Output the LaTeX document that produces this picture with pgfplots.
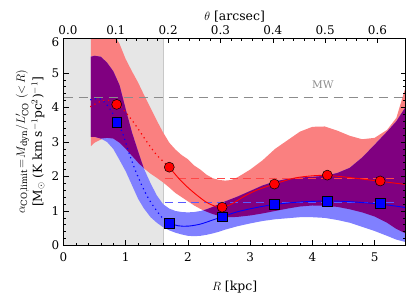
\documentclass[border=0pt]{standalone}
\usepackage{pgfplots}
\pgfplotsset{compat=1.18}
\usepackage{pgfplotstable}
\usepgfplotslibrary{fillbetween}
\usepackage{fontspec}
\setmainfont{DejaVu Serif}
\definecolor{pinkc}{RGB}{250,128,128}
\definecolor{bluec}{RGB}{128,128,255}
\definecolor{purplec}{RGB}{128,0,128}
\definecolor{shade}{RGB}{230,230,230}
\definecolor{shadeline}{RGB}{200,200,200}
\definecolor{mwgray}{RGB}{140,140,140}
\definecolor{dred}{RGB}{255,70,70}
\definecolor{dblue}{RGB}{90,90,255}

\pgfplotstableread{
R PU PL BU BL
0.44 6.30 2.88 5.47 3.15
0.50 6.30 2.98 5.50 3.15
0.60 6.30 3.07 5.47 3.10
0.70 6.30 3.12 5.30 3.00
0.80 6.15 3.10 5.05 2.80
0.90 5.85 2.98 4.65 2.48
1.00 5.40 2.80 3.95 2.15
1.10 5.05 2.60 3.28 1.75
1.20 4.72 2.40 2.72 1.35
1.29 4.38 2.24 2.24 1.08
1.40 3.98 2.08 1.80 0.82
1.50 3.62 1.96 1.45 0.66
1.60 3.28 1.83 1.20 0.53
1.70 2.98 1.68 1.07 0.44
1.80 2.78 1.52 1.00 0.37
1.90 2.62 1.40 0.97 0.32
2.00 2.50 1.28 0.96 0.28
2.10 2.32 1.16 0.97 0.27
2.20 2.20 1.06 1.00 0.28
2.30 2.05 0.98 1.05 0.31
2.40 1.95 0.91 1.12 0.35
2.50 1.90 0.86 1.20 0.40
2.60 1.88 0.83 1.28 0.46
2.70 1.90 0.82 1.35 0.51
2.80 1.98 0.83 1.42 0.56
3.00 2.20 0.87 1.58 0.64
3.20 2.47 0.93 1.74 0.71
3.40 2.80 1.00 1.86 0.76
3.60 3.05 1.07 1.93 0.79
3.80 3.30 1.13 1.97 0.82
4.00 3.44 1.16 1.99 0.82
4.20 3.45 1.15 2.02 0.80
4.40 3.33 1.12 2.10 0.74
4.60 3.18 1.05 2.25 0.66
4.80 3.08 0.96 2.55 0.54
5.00 3.12 0.84 2.92 0.42
5.20 3.35 0.66 3.30 0.28
5.35 3.70 0.48 3.60 0.17
5.50 4.60 0.35 4.02 0.10
}\bands

\pgfplotstableread{
R LO UP
0.44 3.15 5.47
0.50 3.15 5.50
0.60 3.10 5.47
0.70 3.12 5.30
0.80 3.10 5.05
0.90 2.98 4.65
1.00 2.80 3.95
1.10 2.60 3.28
1.20 2.40 2.72
1.29 2.24 2.24
}\purpA

\pgfplotstableread{
R LO UP
2.25 1.02 1.02
2.30 0.98 1.05
2.40 0.91 1.12
2.50 0.86 1.20
2.60 0.83 1.28
2.70 0.82 1.35
2.80 0.83 1.42
3.00 0.87 1.58
3.20 0.93 1.74
3.40 1.00 1.86
3.60 1.07 1.93
3.80 1.13 1.97
4.00 1.16 1.99
4.20 1.15 2.02
4.40 1.12 2.10
4.60 1.05 2.25
4.80 0.96 2.55
5.00 0.84 2.92
5.20 0.66 3.30
5.35 0.48 3.60
5.50 0.35 4.02
}\purpB

\pgfplotstableread{
R red blue
0.855 4.09 3.57
1.70 2.27 0.64
2.55 1.11 0.83
3.39 1.78 1.19
4.24 2.04 1.29
5.09 1.87 1.22
}\points

\begin{document}
\begin{tikzpicture}
\begin{axis}[
  at={(0,0)}, anchor=south west,
  scale only axis, width=342.2bp, height=207bp,
  xmin=0, xmax=5.5, ymin=0, ymax=6,
  set layers, axis on top,
  xtick={0,1,2,3,4,5}, ytick={0,1,2,3,4,5},
  extra y ticks={6},
  extra y tick style={yticklabel style={yshift=-4bp}},
  minor x tick num=4, minor y tick num=4,
  xtick pos=bottom, ytick pos=both,
  tick align=inside,
  major tick length=5bp, minor tick length=2.8bp,
  axis line style={line width=0.8bp},
  every tick/.style={black, line width=0.6bp},
  /pgf/number format/assume math mode=true,
  tick label style={font=\fontsize{12}{14}\selectfont},
  xticklabel style={yshift=-4bp},
  yticklabel style={inner sep=1.5bp, xshift=-2.5bp},
  xlabel={$R$ [kpc]},
  xlabel style={at={(axis description cs:0.5,-0.2)}, anchor=center, font=\fontsize{12.5}{14}\selectfont},
  ylabel={$\alpha_{\rm CO,limit}\!=\!M_{\rm dyn}/L'_{\rm CO}$ $(<\!R)$\\[1pt] [M$_\odot$ (K km s$^{-1}$pc$^{2}$)$^{-1}$]},
  ylabel style={at={(axis description cs:-0.098,0.5)}, anchor=center, align=center, font=\fontsize{12.3}{16}\selectfont},
]
% shaded inner region (as fills, so that it stays beneath the bands)
\addplot[draw=none, name path=gtop] coordinates {(0,6) (1.6,6)};
\addplot[draw=none, name path=gbot] coordinates {(0,0) (1.6,0)};
\addplot[fill=shade] fill between[of=gtop and gbot];
\addplot[draw=none, name path=vl] coordinates {(1.592,0) (1.592,6)};
\addplot[draw=none, name path=vr] coordinates {(1.608,0) (1.608,6)};
\addplot[fill=shadeline] fill between[of=vl and vr];

% bands
\addplot[draw=none, name path=pu] table[x=R,y=PU]{\bands};
\addplot[draw=none, name path=pl] table[x=R,y=PL]{\bands};
\addplot[fill=pinkc, draw=none] fill between[of=pu and pl];
\addplot[draw=none, name path=bu] table[x=R,y=BU]{\bands};
\addplot[draw=none, name path=bl] table[x=R,y=BL]{\bands};
\addplot[fill=bluec, draw=none] fill between[of=bu and bl];
\addplot[draw=none, name path=aup] table[x=R,y=UP]{\purpA};
\addplot[draw=none, name path=alo] table[x=R,y=LO]{\purpA};
\addplot[fill=purplec, draw=none] fill between[of=aup and alo];
\addplot[draw=none, name path=bup] table[x=R,y=UP]{\purpB};
\addplot[draw=none, name path=blo] table[x=R,y=LO]{\purpB};
\addplot[fill=purplec, draw=none] fill between[of=bup and blo];

% MW line
\addplot[mwgray, line width=1bp, dash pattern=on 9bp off 6bp] coordinates {(0,4.3) (5.5,4.3)};
\node[mwgray, font=\fontsize{10.5}{12}\selectfont] at (axis cs:4.17,4.65) {MW};

% mean dashed lines
\addplot[dred, line width=1.4bp, dash pattern=on 8bp off 5bp] coordinates {(1.63,1.94) (5.33,1.94)};
\addplot[dblue, line width=1.2bp, dash pattern=on 8bp off 5bp] coordinates {(1.63,1.24) (5.33,1.24)};

% dotted curves
\addplot[red, line width=1.2bp, dash pattern=on 1.2bp off 3.6bp, smooth] coordinates {
(0.43,4.02) (0.6,4.18) (0.75,4.2) (0.9,4.05) (1.05,3.75) (1.2,3.38) (1.35,2.98) (1.5,2.62) (1.7,2.27)};
\addplot[blue, line width=1.2bp, dash pattern=on 1.2bp off 3.6bp, smooth] coordinates {
(0.43,4.22) (0.59,4.25) (0.75,3.95) (0.94,3.3) (1.04,2.75) (1.15,2.2) (1.27,1.7) (1.37,1.35) (1.5,1.0) (1.6,0.78) (1.7,0.64)};

% solid curves
\addplot[red, line width=0.9bp, smooth] coordinates {
(1.70,2.27) (1.85,1.95) (2.0,1.68) (2.15,1.45) (2.3,1.25) (2.45,1.13) (2.55,1.11) (2.7,1.2) (2.9,1.42) (3.1,1.6) (3.39,1.78) (3.7,1.95) (4.0,2.02) (4.24,2.03) (4.6,1.97) (5.09,1.86) (5.5,1.77)};
\addplot[blue, line width=0.9bp, smooth] coordinates {
(1.70,0.64) (1.85,0.57) (2.0,0.56) (2.2,0.62) (2.4,0.74) (2.55,0.83) (2.8,0.98) (3.1,1.10) (3.39,1.19) (3.8,1.26) (4.24,1.29) (4.6,1.27) (5.09,1.20) (5.5,1.10)};

% points
\addplot[only marks, mark=*, mark size=5bp, mark options={fill=red, draw=black, line width=0.5bp}] table[x=R,y=red]{\points};
\addplot[only marks, mark=square*, mark size=4.8bp, mark options={fill=blue, draw=black, line width=0.5bp}] table[x=R,y=blue]{\points};
\end{axis}

\begin{axis}[
  at={(0,0)}, anchor=south west,
  scale only axis, width=342.2bp, height=207bp,
  xmin=0, xmax=0.654, ymin=0, ymax=6,
  axis x line*=top, hide y axis,
  xtick={0.1,0.2,0.3,0.4,0.5,0.6},
  extra x ticks={0},
  extra x tick style={xticklabel style={xshift=4.5bp}},
  minor x tick num=4,
  tick align=inside,
  major tick length=5bp, minor tick length=2.8bp,
  axis line style={line width=0.8bp},
  every tick/.style={black, line width=0.6bp},
  xticklabel style={font=\fontsize{12}{14}\selectfont},
  /pgf/number format/fixed,
  /pgf/number format/fixed zerofill,
  /pgf/number format/precision=1,
  /pgf/number format/assume math mode=true,
  xlabel={$\theta$ [arcsec]},
  xlabel style={at={(axis description cs:0.5,1.105)}, anchor=center, font=\fontsize{12.5}{14}\selectfont},
]
\addplot[draw=none] coordinates {(0,0) (0.6,6)};
\end{axis}
\useasboundingbox (-63.5bp,-48.5bp) rectangle (348.5bp,245.5bp);
\end{tikzpicture}
\end{document}
